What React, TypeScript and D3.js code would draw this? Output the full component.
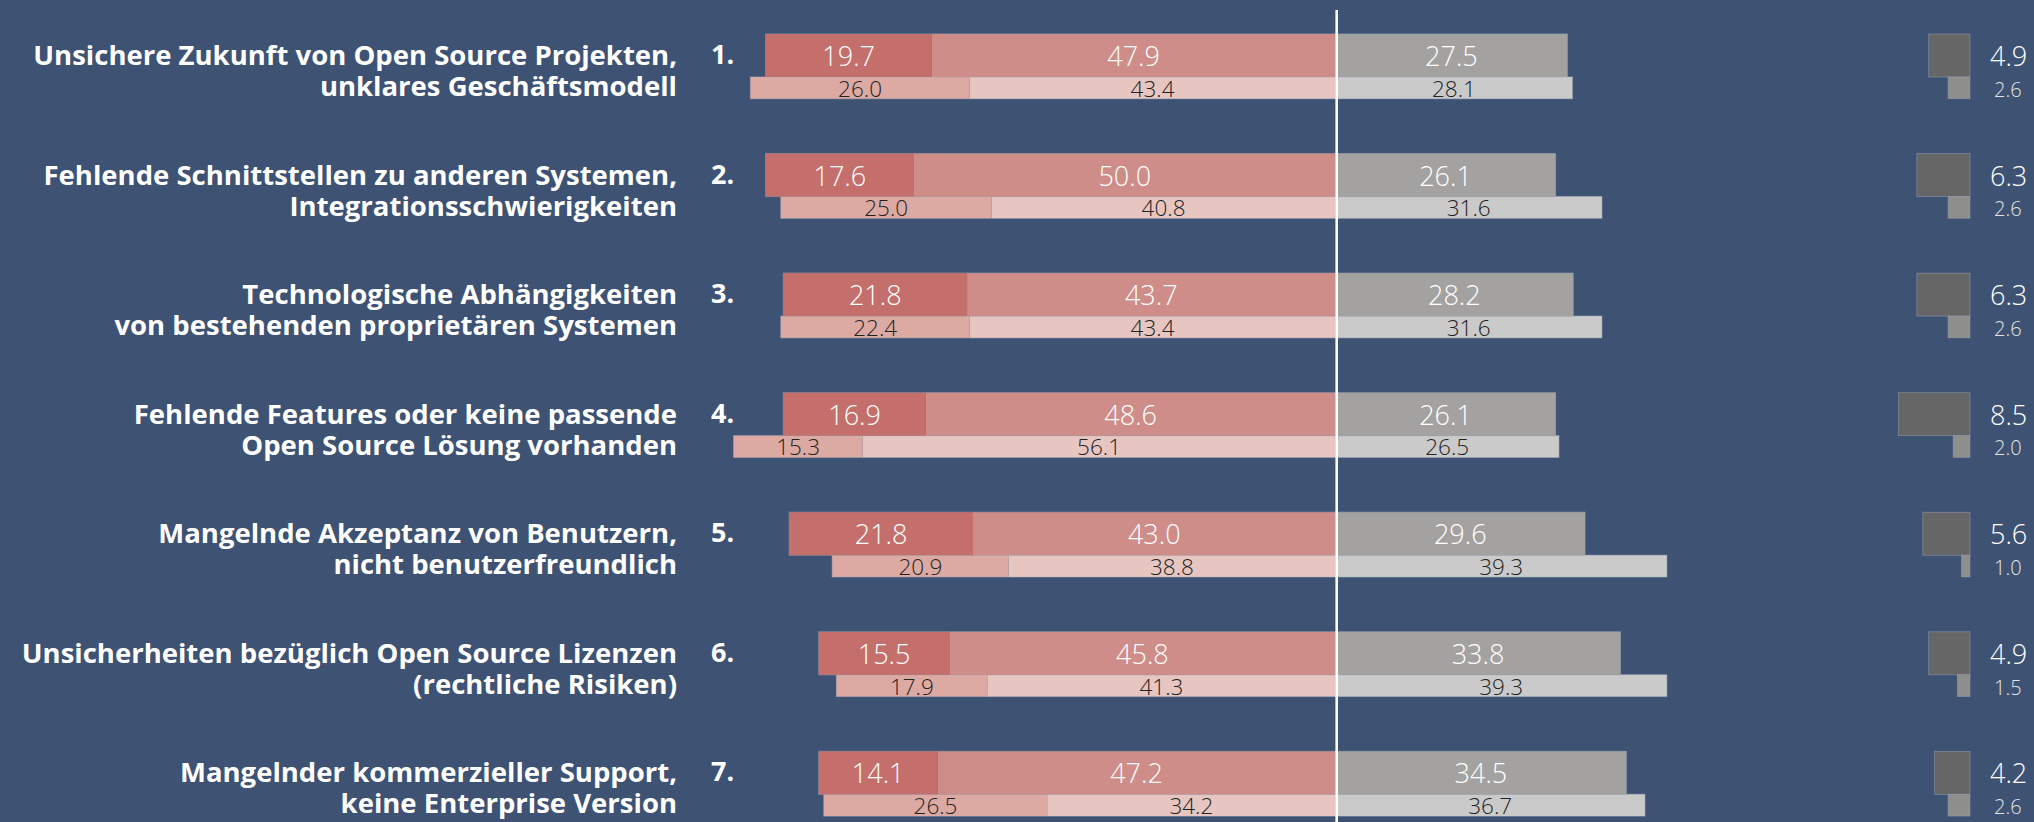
import * as d3 from 'd3'

const titles: [string, string][] = [
  ['Unsichere Zukunft von Open Source Projekten,', 'unklares Geschäftsmodell'],
  ['Fehlende Schnittstellen zu anderen Systemen,', 'Integrationsschwierigkeiten'],
  ['Technologische Abhängigkeiten', 'von bestehenden proprietären Systemen'],
  ['Fehlende Features oder keine passende', 'Open Source Lösung vorhanden'],
  ['Mangelnde Akzeptanz von Benutzern,', 'nicht benutzerfreundlich'],
  ['Unsicherheiten bezüglich Open Source Lizenzen', '(rechtliche Risiken)'],
  ['Mangelnder kommerzieller Support,', 'keine Enterprise Version'],
]

// main (upper) bars
const mainStrong = [19.7, 17.6, 21.8, 16.9, 21.8, 15.5, 14.1]
const mainWeak = [47.9, 50.0, 43.7, 48.6, 43.0, 45.8, 47.2]
const mainNeutral = [27.5, 26.1, 28.2, 26.1, 29.6, 33.8, 34.5]
const mainNone = [4.9, 6.3, 6.3, 8.5, 5.6, 4.9, 4.2]

// comparison (lower) bars
const compStrong = [26.0, 25.0, 22.4, 15.3, 20.9, 17.9, 26.5]
const compWeak = [43.4, 40.8, 43.4, 56.1, 38.8, 41.3, 34.2]
const compNeutral = [28.1, 31.6, 31.6, 26.5, 39.3, 39.3, 36.7]
const compNone = [2.6, 2.6, 2.6, 2.0, 1.0, 1.5, 2.6]

const W = 2034
const H = 822
const BG = '#3e5273'
const FONT = "'Open Sans', 'DejaVu Sans', sans-serif"

const x = d3.scaleLinear().domain([-80, 80]).range([661.1, 2009.9])
const y = d3.scaleLinear().domain([0, 6]).range([34, 34 + 6 * 119.56])
const w = (v: number) => x(v) - x(0)

const bigH = 43
const smallH = 21.7
const squareRight = 1970
const edge = 'rgba(160,170,190,0.55)'

const fmt = d3.format('.1f')

export default function App() {
  return (
    <div style={{ position: 'absolute', left: 0, top: 0 }}>
      <svg width={W} height={H} style={{ display: 'block' }}>
        <rect width={W} height={H} fill={BG} />
        {titles.map((t, i) => {
          const top = y(i)
          const st = mainStrong[i]
          const wk = mainWeak[i]
          const ne = mainNeutral[i]
          const cs = compStrong[i]
          const cw = compWeak[i]
          const cn = compNeutral[i]
          const sTop = top + bigH
          const segs = [
            { x0: x(-(st + wk)), x1: x(-wk), fill: '#c46f6c', v: st },
            { x0: x(-wk), x1: x(0), fill: '#ce8d88', v: wk },
            { x0: x(0), x1: x(ne), fill: '#a3a2a0', v: ne },
          ]
          const csegs = [
            { x0: x(-(cs + cw)), x1: x(-cw), fill: '#dcaaa3', v: cs },
            { x0: x(-cw), x1: x(0), fill: '#e7c6c1', v: cw },
            { x0: x(0), x1: x(cn), fill: '#cacaca', v: cn },
          ]
          return (
            <g key={i}>
              <text x={677} y={top + 31} textAnchor="end" fill="#fff" fontFamily={FONT}
                fontWeight={700} fontSize={27.5}>{t[0]}</text>
              <text x={677} y={top + 62} textAnchor="end" fill="#fff" fontFamily={FONT}
                fontWeight={700} fontSize={27.5}>{t[1]}</text>
              <text x={711} y={top + 30} fill="#fff" fontFamily={FONT} fontWeight={700}
                fontSize={27}>{`${i + 1}.`}</text>

              <rect x={x(-(cs + cw))} y={sTop} width={w(cs + cw + cn)} height={smallH}
                fill="none" stroke={edge} strokeWidth={1.2} />
              {csegs.map((s, j) => (
                <g key={j}>
                  <rect x={s.x0} y={sTop} width={s.x1 - s.x0} height={smallH} fill={s.fill} />
                  <text x={(s.x0 + s.x1) / 2} y={sTop + 19.8} textAnchor="middle" fill="#222"
                    fontFamily={FONT} fontWeight={300} fontSize={22.5}>{fmt(s.v)}</text>
                </g>
              ))}

              <rect x={x(-(st + wk))} y={top} width={w(st + wk + ne)} height={bigH}
                fill="none" stroke={edge} strokeWidth={1.2} />
              {segs.map((s, j) => (
                <g key={j}>
                  <rect x={s.x0} y={top} width={s.x1 - s.x0} height={bigH} fill={s.fill} />
                  <text x={(s.x0 + s.x1) / 2} y={top + 32} textAnchor="middle" fill="#fff"
                    fontFamily={FONT} fontWeight={300} fontSize={27}>{fmt(s.v)}</text>
                </g>
              ))}

              <rect x={squareRight - w(mainNone[i])} y={top} width={w(mainNone[i])} height={bigH}
                fill="#666666" stroke={edge} strokeWidth={0.8} />
              <rect x={squareRight - w(compNone[i])} y={sTop} width={w(compNone[i])} height={smallH}
                fill="#8e8e8c" stroke={edge} strokeWidth={0.8} />
              <text x={1990} y={top + 32} fill="#fff" fontFamily={FONT} fontWeight={300}
                fontSize={27}>{fmt(mainNone[i])}</text>
              <text x={1994} y={sTop + 19.7} fill="#e4e4e4" fontFamily={FONT} fontWeight={300}
                fontSize={20}>{fmt(compNone[i])}</text>
            </g>
          )
        })}
        <line x1={x(0) + 1.2} x2={x(0) + 1.2} y1={10} y2={H} stroke="#fff" strokeWidth={2.6} />
      </svg>
    </div>
  )
}
